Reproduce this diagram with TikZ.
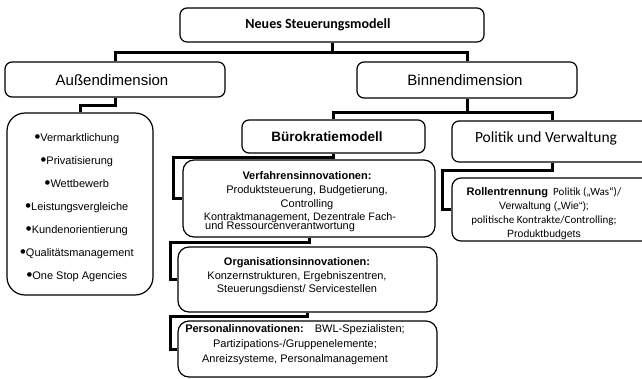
\documentclass[tikz,border=0pt]{standalone}
\usepackage{fontspec}
\setmainfont{Liberation Sans}
\newfontfamily\calib{Carlito}
\newfontfamily\dejavu{DejaVu Sans}
\newcommand{\bul}{\raisebox{3pt}{\dejavu\fontsize{6}{6}\selectfont ●}\kern0.3pt}
\begin{document}
\begin{tikzpicture}[x=1pt,y=-1pt,
  box/.style={draw=black, line width=1.2pt, rounded corners=7pt, fill=white, inner sep=0pt},
  conn/.style={draw=black, line width=3pt, line join=miter},
  txt/.style={inner sep=0pt, align=center, text=black}]
\clip (0,0) rectangle (642,378);
\fill[white] (0,0) rectangle (642,378);

% boxes
\node[box, minimum width=304pt, minimum height=34pt] (top) at (332,25) {};
\node[box, minimum width=220pt, minimum height=35pt] (aus) at (115,79.5) {};
\node[box, minimum width=220pt, minimum height=36pt] (binn) at (467,80) {};
\node[box, rounded corners=18pt, minimum width=146pt, minimum height=182pt] (bul) at (80,204) {};
\node[box, minimum width=183pt, minimum height=33pt] (buero) at (333.5,136.5) {};
\node[box, minimum width=200pt, minimum height=41pt] (polit) at (552,141.5) {};
\node[box, rounded corners=11pt, minimum width=252pt, minimum height=77pt] (verf) at (309,198.5) {};
\node[box, rounded corners=11pt, minimum width=259pt, minimum height=65pt] (org) at (307.5,279.5) {};
\node[box, rounded corners=11pt, minimum width=259pt, minimum height=56pt] (pers) at (307.5,349) {};
\node[box, rounded corners=9pt, minimum width=200pt, minimum height=63pt] (roll) at (552,209.5) {};

% connectors
\draw[conn] (top.south) -- ++(0,10) coordinate (j1);
\draw[conn] (aus.north) |- (j1) -| (binn.north);
\draw[conn] (aus.south) -- ++(0,8) -| (bul.north);
\draw[conn] (binn.south) -- ++(0,14) coordinate (j2);
\draw[conn] (buero.north) |- (j2) -| (polit.north);
\draw[conn] (buero.south) -- ++(0,4) -| ([xshift=-9pt]verf.west) -- (verf.west);
\draw[conn] (verf.south) -- ++(0,5) -| ([xshift=-7pt]org.west) -- (org.west);
\draw[conn] (org.south) -- ++(0,4) -| ([xshift=-7pt]pers.west) -- (pers.west);
\draw[conn] (polit.south) -- ++(0,8) -| ([xshift=-9pt]roll.west) -- (roll.west);

% texts
\node[txt, font={\calib\bfseries\fontsize{14}{16}\selectfont}] (topT) at (318,25) {Neues Steuerungsmodell};
\node[txt, font={\fontsize{15}{17}\selectfont}] (ausT) at (112,80) {Außendimension};
\node[txt, font={\fontsize{15}{17}\selectfont}] (binnT) at (465,80) {Binnendimension};
\node[txt, font={\bfseries\fontsize{13.5}{16}\selectfont}] (bueroT) at (327,136.5) {Bürokratiemodell};
\node[txt, font={\calib\fontsize{15.5}{17}\selectfont}] (politT) at (546,138.5) {Politik und Verwaltung};
\node[txt, font={\fontsize{11}{23}\selectfont}] (bulT) at (77,207.5) {%
\bul Vermarktlichung\\ \bul Privatisierung\\ \bul Wettbewerb\\ \bul Leistungsvergleiche\\
\bul Kundenorientierung\\ \bul Qualitätsmanagement\\ \bul One Stop Agencies};
\node[txt, font={\fontsize{11}{14}\selectfont}] (verfA) at (307,191) {%
\textbf{Verfahrensinnovationen:}\\ Produktsteuerung, Budgetierung,\\ Controlling};
\node[txt, font={\fontsize{10.8}{12}\selectfont}] (verfB) at (300,218) {Kontraktmanagement, Dezentrale Fach-};
\node[txt, anchor=west, font={\fontsize{11}{12}\selectfont}] (verfC) at (205,227) {und Ressourcenverantwortung};
\node[txt, font={\fontsize{11}{13.5}\selectfont}] (orgT) at (297,276.5) {%
\textbf{Organisationsinnovationen:}\\ Konzernstrukturen, Ergebniszentren,\\ Steuerungsdienst/ Servicestellen};
\node[txt, font={\fontsize{11}{15}\selectfont}] (persT) at (295,345) {%
\textbf{Personalinnovationen:}\quad BWL-Spezialisten;\\ Partizipations-/Gruppenelemente;\\ Anreizsysteme, Personalmanagement};
\node[txt, font={\fontsize{10.5}{14}\selectfont}] (rollT) at (544,214) {%
\textbf{\fontsize{11}{14}\selectfont Rollentrennung}\enspace{\calib\fontsize{11}{14}\selectfont Politik („Was“)/}\\
Verwaltung („Wie“);\\
{\calib\fontsize{11}{14}\selectfont politische Kontrakte/Controlling;}\\
Produktbudgets};
\end{tikzpicture}
\end{document}
